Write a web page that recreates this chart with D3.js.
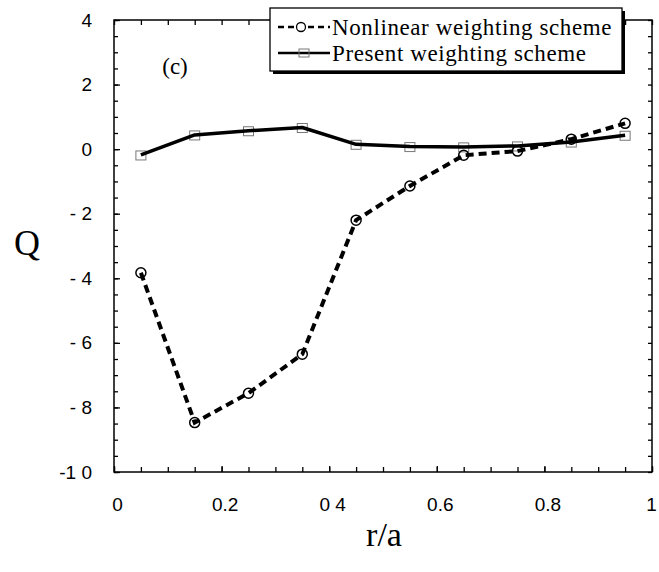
<!DOCTYPE html>
<html>
<head>
<meta charset="utf-8">
<script src="https://cdn.jsdelivr.net/npm/d3@7"></script>
<style>
  html, body { margin: 0; padding: 0; background: #fff; }
  svg { display: block; }
</style>
</head>
<body>
<svg id="chart" width="659" height="572"></svg>
<script>
// Radial positions and Q values for the two weighting schemes
const radius = [0.05, 0.15, 0.25, 0.35, 0.45, 0.55, 0.65, 0.75, 0.85, 0.95];
const nonlinearQ = [-3.83, -8.47, -7.56, -6.35, -2.2, -1.14, -0.19, -0.06, 0.31, 0.8];
const presentQ = [-0.18, 0.44, 0.57, 0.67, 0.15, 0.08, 0.07, 0.1, 0.22, 0.43];

// Tick values and labels
const xTickValues = [0, 0.2, 0.4, 0.6, 0.8, 1];
const xTickLabels = ["0", "0.2", "0 4", "0.6", "0.8", "1"];
const yTickValues = [4, 2, 0, -2, -4, -6, -8, -10];
const yTickLabels = ["4", "2", "0", "- 2", "- 4", "- 6", "- 8", "-1 0"];
const seriesNames = ["Nonlinear weighting scheme", "Present weighting scheme"];

const svg = d3.select("#chart");
const plotLeft = 114, plotRight = 652, plotTop = 20, plotBottom = 472;

const x = d3.scaleLinear().domain([0, 1]).range([plotLeft, plotRight]);
const y = d3.scaleLinear().domain([-10, 4]).range([plotBottom, plotTop]);

const serif = "'Liberation Serif', 'Times New Roman', serif";
const sans = "'Liberation Sans', Arial, Helvetica, sans-serif";

const xMinor = d3.range(0, 21).map(i => i * 0.05);
const yMinor = d3.range(0, 29).map(i => -10 + i * 0.5);

function styleAxis(g) {
  g.select(".domain").remove();
  g.selectAll(".tick line").attr("stroke", "#000").attr("stroke-width", 1.3);
}

// Minor ticks on all four sides, pointing into the plot
svg.append("g").attr("transform", `translate(0,${plotBottom})`)
  .call(d3.axisBottom(x).tickValues(xMinor).tickSize(-5).tickFormat(""))
  .call(styleAxis);
svg.append("g").attr("transform", `translate(0,${plotTop})`)
  .call(d3.axisTop(x).tickValues(xMinor).tickSize(-5).tickFormat(""))
  .call(styleAxis);
svg.append("g").attr("transform", `translate(${plotLeft},0)`)
  .call(d3.axisLeft(y).tickValues(yMinor).tickSize(-4).tickFormat(""))
  .call(styleAxis);
svg.append("g").attr("transform", `translate(${plotRight},0)`)
  .call(d3.axisRight(y).tickValues(yMinor).tickSize(-4).tickFormat(""))
  .call(styleAxis);

// Labelled axes
const xAxis = svg.append("g").attr("transform", `translate(0,${plotBottom})`)
  .call(d3.axisBottom(x).tickValues(xTickValues).tickSize(-6).tickPadding(26)
    .tickFormat((d, i) => xTickLabels[i]))
  .call(styleAxis);
xAxis.selectAll(".tick text").attr("font-family", sans).attr("font-size", 19)
  .attr("fill", "#000").attr("dx", d => d === 1 ? -1 : 3);

const yAxis = svg.append("g").attr("transform", `translate(${plotLeft},0)`)
  .call(d3.axisLeft(y).tickValues(yTickValues).tickSize(-6).tickPadding(22)
    .tickFormat((d, i) => yTickLabels[i]))
  .call(styleAxis);
yAxis.selectAll(".tick text").attr("font-family", sans).attr("font-size", 19)
  .attr("fill", "#000");

// Plot frame
svg.append("rect")
  .attr("x", plotLeft).attr("y", plotTop)
  .attr("width", plotRight - plotLeft).attr("height", plotBottom - plotTop)
  .attr("fill", "none").attr("stroke", "#000").attr("stroke-width", 1.5);

const line = d3.line().x(d => x(d[0])).y(d => y(d[1]));
const nonlinearPts = radius.map((r, i) => [r, nonlinearQ[i]]);
const presentPts = radius.map((r, i) => [r, presentQ[i]]);

// Present scheme: solid line with open square markers
svg.append("g").selectAll("rect").data(presentPts).join("rect")
  .attr("x", d => x(d[0]) - 5).attr("y", d => y(d[1]) - 4)
  .attr("width", 10).attr("height", 9)
  .attr("fill", "none").attr("stroke", "#777").attr("stroke-width", 1);
svg.append("path").datum(presentPts)
  .attr("d", line).attr("fill", "none")
  .attr("stroke", "#000").attr("stroke-width", 3.5).attr("stroke-linejoin", "round");

// Nonlinear scheme: dashed line with open circle markers
svg.append("path").datum(nonlinearPts)
  .attr("d", line).attr("fill", "none")
  .attr("stroke", "#000").attr("stroke-width", 4).attr("stroke-dasharray", "8,5");
svg.append("g").selectAll("circle").data(nonlinearPts).join("circle")
  .attr("cx", d => x(d[0])).attr("cy", d => y(d[1])).attr("r", 5)
  .attr("fill", "none").attr("stroke", "#000").attr("stroke-width", 1.5);

// Panel tag
svg.append("text").attr("x", 175).attr("y", 74).attr("text-anchor", "middle")
  .attr("font-family", serif).attr("font-size", 23).text("(c)");

// Legend with drop shadow
const lg = svg.append("g");
lg.append("rect").attr("x", 273).attr("y", 11).attr("width", 352).attr("height", 63).attr("fill", "#000");
lg.append("rect").attr("x", 270).attr("y", 8).attr("width", 352).attr("height", 63)
  .attr("fill", "#fff").attr("stroke", "#000").attr("stroke-width", 1.3);

const rowY = [27, 53];
lg.append("line").attr("x1", 278).attr("x2", 330).attr("y1", rowY[0]).attr("y2", rowY[0])
  .attr("stroke", "#000").attr("stroke-width", 2.5).attr("stroke-dasharray", "6,4");
lg.append("circle").attr("cx", 301).attr("cy", rowY[0]).attr("r", 4.5)
  .attr("fill", "#fff").attr("stroke", "#000").attr("stroke-width", 1.3);
lg.append("line").attr("x1", 278).attr("x2", 330).attr("y1", rowY[1]).attr("y2", rowY[1])
  .attr("stroke", "#000").attr("stroke-width", 2.5);
lg.append("rect").attr("x", 299).attr("y", rowY[1] - 4).attr("width", 10).attr("height", 8)
  .attr("fill", "none").attr("stroke", "#777").attr("stroke-width", 1);

lg.selectAll("text.lbl").data(seriesNames).join("text").attr("class", "lbl")
  .attr("x", 332).attr("y", (d, i) => rowY[i] + 8)
  .attr("font-family", serif).attr("font-size", 23)
  .attr("letter-spacing", 0.6).text(d => d);

// Axis titles
svg.append("text").attr("x", 27).attr("y", 255).attr("text-anchor", "middle")
  .attr("font-family", serif).attr("font-size", 36).text("Q");
svg.append("text").attr("x", 384).attr("y", 546).attr("text-anchor", "middle")
  .attr("font-family", serif).attr("font-size", 34).text("r/a");
</script>
</body>
</html>
